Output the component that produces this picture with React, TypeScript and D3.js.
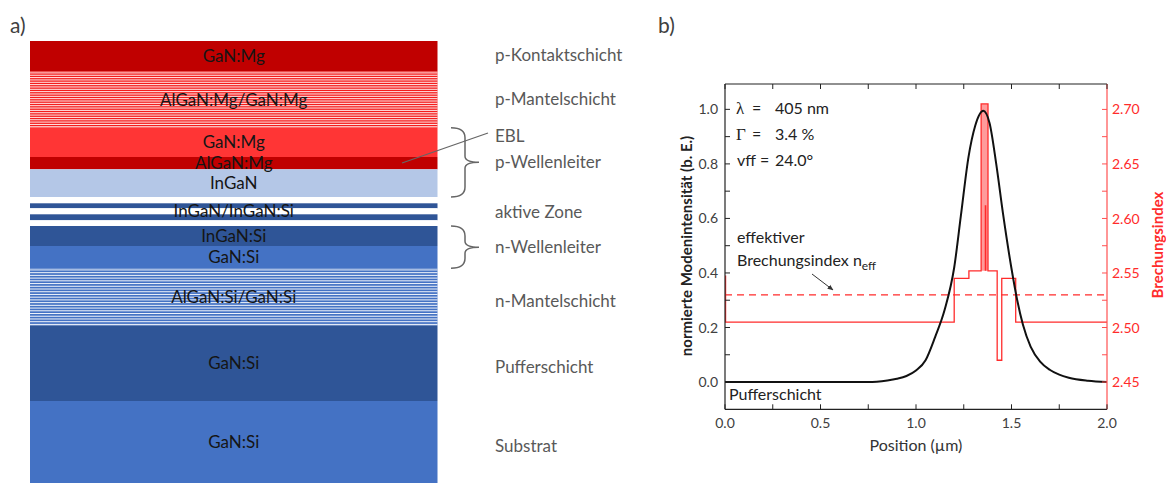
import React from 'react';
import * as d3 from 'd3';

// ---------- Panel a) layer stack ----------
const layerNames = ['GaN:Mg', 'AlGaN:Mg/GaN:Mg', 'GaN:Mg', 'AlGaN:Mg', 'InGaN', '', '', 'InGaN/InGaN:Si', '', '', 'InGaN:Si', 'GaN:Si', 'AlGaN:Si/GaN:Si', 'GaN:Si', 'GaN:Si'];
const layerThickness = [30.5, 56.2, 29.3, 12.3, 27.7, 6.3, 5, 6, 6, 5.7, 20, 22.3, 57.2, 75.5, 82];
const layerColors = ['#C00000', '#F41C1C', '#FF3535', '#C00000', '#B4C7E7', '#FFFFFF', '#2F5597', '#FFFFFF', '#2F5597', '#FFFFFF', '#2F5597', '#4472C4', '#4472C4', '#2F5597', '#4472C4'];
const layerStripes = [0, 24, 0, 0, 0, 0, 0, 0, 0, 0, 0, 0, 21, 0, 0];

const sideLabels = ['p-Kontaktschicht', 'p-Mantelschicht', 'EBL', 'p-Wellenleiter', 'aktive Zone', 'n-Wellenleiter', 'n-Mantelschicht', 'Pufferschicht', 'Substrat'];
const sideFrom = [0, 1, 2, 2, 6, 10, 12, 13, 14];
const sideTo = [0, 1, 2, 4, 8, 11, 12, 13, 14];
const sideNudge = [-1, -1, -6, 0, 0, 0, 4, 4, 4];
const braceGroups = [[2, 4], [10, 11]];

// ---------- Panel b) mode profile ----------
const modePos = [0, 0.75, 0.85, 0.9, 0.95, 1.0, 1.05, 1.1, 1.15, 1.2, 1.235, 1.275, 1.31, 1.352, 1.385, 1.42, 1.455, 1.499, 1.53, 1.56, 1.6, 1.65, 1.7, 1.75, 1.8, 1.9, 2.0];
const modeVal = [0, 0, 0.006, 0.012, 0.022, 0.042, 0.08, 0.165, 0.265, 0.42, 0.61, 0.826, 0.94, 0.995, 0.95, 0.8, 0.62, 0.42, 0.3, 0.21, 0.13, 0.075, 0.045, 0.027, 0.016, 0.005, 0];

const indexPos = [0, 0.003, 1.2, 1.277, 1.341, 1.377, 1.425, 1.449, 1.522, 2.0];
const indexVal = [2.547, 2.505, 2.545, 2.552, 2.705, 2.552, 2.47, 2.545, 2.505, 2.505];
const spikeRange = [1.341, 1.377];
const spikeBase = 2.552;
const spikeTop = 2.705;
const spikeInnerPos = 1.364;
const spikeInnerTop = 2.612;
const nEff = 2.53;

const xTicksMajor = [0, 0.5, 1.0, 1.5, 2.0];
const xTicksMinor = [0.25, 0.75, 1.25, 1.75];
const yTicksMajor = [0, 0.2, 0.4, 0.6, 0.8, 1.0];
const yTicksMinor = [0.1, 0.3, 0.5, 0.7, 0.9];
const rTicksMajor = [2.45, 2.5, 2.55, 2.6, 2.65, 2.7];
const rTicksMinor = [2.475, 2.525, 2.575, 2.625, 2.675];

const FONT = 'Lato, "Open Sans", sans-serif';
const GREY = '#404040';
const RED = '#FF2B2B';

export default function App() {
  // stack scale
  const total = d3.sum(layerThickness);
  const ys = d3.scaleLinear().domain([0, total]).range([41, 483]);
  const cum = [0, ...d3.cumsum(layerThickness)];
  const sx0 = 30, sx1 = 437.5, scx = (sx0 + sx1) / 2;

  const layerRects: JSX.Element[] = [];
  layerThickness.forEach((t, i) => {
    const y0 = ys(cum[i]);
    const y1 = ys(cum[i + 1]);
    layerRects.push(<rect key={'l' + i} x={sx0} y={y0} width={sx1 - sx0} height={y1 - y0} fill={layerColors[i]} />);
    const n = layerStripes[i];
    for (let k = 0; k < n; k++) {
      const yy = y0 + ((k + 0.6) * (y1 - y0)) / n;
      layerRects.push(<rect key={'s' + i + '_' + k} x={sx0} y={yy - 0.5} width={sx1 - sx0} height={1} fill="#FFFFFF" opacity={0.92} />);
    }
  });

  // plot scales
  const x = d3.scaleLinear().domain([0, 2]).range([725, 1107]);
  const yL = d3.scaleLinear().domain([-0.1, 1.093]).range([409.3, 84]);
  const yR = d3.scaleLinear().domain([2.425, 2.7233]).range([409.3, 84]);
  const [px0, px1] = x.range();
  const [py1, py0] = yL.range();

  const modeLine = d3.line<number>().x((d, i) => x(modePos[i])).y((d) => yL(d)).curve(d3.curveMonotoneX)(modeVal) || '';
  const idxLine = d3.line<number>().x((d, i) => x(indexPos[i])).y((d) => yR(d)).curve(d3.curveStepAfter)(indexVal) || '';
  const spikeArea = d3.area<number>().x((d) => x(d)).y0(yR(spikeBase)).y1(yR(spikeTop))(spikeRange) || '';

  const braces = braceGroups.map(([a, b], i) => {
    const top = ys(cum[a]);
    const bot = ys(cum[b + 1]);
    const mid = (top + bot) / 2;
    const xl = 451, xv = 465, xt = 479;
    const d = `M${xl},${top} Q${xv},${top} ${xv},${top + 10} L${xv},${mid - 6} Q${xv},${mid} ${xt},${mid} Q${xv},${mid} ${xv},${mid + 6} L${xv},${bot - 10} Q${xv},${bot} ${xl},${bot}`;
    return <path key={'b' + i} d={d} fill="none" stroke="#666" strokeWidth={1.5} />;
  });

  return (
    <svg width={1166} height={483} style={{ position: 'absolute', left: 0, top: 0, background: '#fff' }} fontFamily={FONT}>
      <defs>
        <clipPath id="plotclip">
          <rect x={px0} y={py0} width={px1 - px0} height={py1 - py0} />
        </clipPath>
        <marker id="arr" viewBox="0 0 10 10" refX="9" refY="5" markerWidth="6" markerHeight="6" orient="auto">
          <path d="M0,1 L10,5 L0,9 z" fill="#333" />
        </marker>
      </defs>

      {/* panel labels */}
      <text x={10} y={33} fontSize={21} fill={GREY}>a)</text>
      <text x={658} y={33} fontSize={21} fill={GREY}>b)</text>

      {/* stack */}
      {layerRects}
      {layerNames.map((name, i) =>
        name ? (
          <text key={'n' + i} x={scx} y={(ys(cum[i]) + ys(cum[i + 1])) / 2} dy="0.36em" textAnchor="middle" fontSize={17} fill="#151515">
            {name}
          </text>
        ) : null
      )}
      {sideLabels.map((s, i) => (
        <text key={'sl' + i} x={495} y={(ys(cum[sideFrom[i]]) + ys(cum[sideTo[i] + 1])) / 2 + sideNudge[i]} dy="0.36em" fontSize={17} fill="#595959">
          {s}
        </text>
      ))}
      {braces}
      <line x1={488} y1={133} x2={402} y2={163} stroke="#666" strokeWidth={1.3} />

      {/* plot */}
      <g clipPath="url(#plotclip)">
        <path d={spikeArea} fill="#FF7070" opacity={0.7} />
        <line x1={x(spikeInnerPos)} x2={x(spikeInnerPos)} y1={yR(spikeBase)} y2={yR(spikeInnerTop)} stroke={RED} strokeWidth={1.6} />
        <path d={idxLine} fill="none" stroke={RED} strokeWidth={1.3} />
        <line x1={px0} x2={px1} y1={yR(nEff)} y2={yR(nEff)} stroke={RED} strokeWidth={1.3} strokeDasharray="7,5" />
        <path d={modeLine} fill="none" stroke="#111" strokeWidth={2} />
      </g>

      {/* axes frame */}
      <line x1={px0} x2={px1} y1={py0} y2={py0} stroke="#222" strokeWidth={1.2} />
      <line x1={px0} x2={px1} y1={py1} y2={py1} stroke="#222" strokeWidth={1.2} />
      <line x1={px0} x2={px0} y1={py0} y2={py1} stroke="#222" strokeWidth={1.2} />
      <line x1={px1} x2={px1} y1={py0} y2={py1} stroke="#FF5050" strokeWidth={1.2} />

      {/* x ticks */}
      {xTicksMajor.concat(xTicksMinor).map((t, i) => (
        <g key={'xt' + i}>
          <line x1={x(t)} x2={x(t)} y1={py1} y2={py1 - 5} stroke="#222" strokeWidth={1} />
          <line x1={x(t)} x2={x(t)} y1={py0} y2={py0 + 5} stroke="#222" strokeWidth={1} />
        </g>
      ))}
      {xTicksMajor.map((t, i) => (
        <text key={'xl' + i} x={x(t)} y={428} textAnchor="middle" fontSize={14} fill={GREY}>
          {t.toFixed(1)}
        </text>
      ))}
      {/* left y ticks */}
      {yTicksMajor.concat(yTicksMinor).map((t, i) => (
        <line key={'yt' + i} x1={px0} x2={px0 + 5} y1={yL(t)} y2={yL(t)} stroke="#222" strokeWidth={1} />
      ))}
      {yTicksMajor.map((t, i) => (
        <text key={'yl' + i} x={718} y={yL(t)} dy="0.36em" textAnchor="end" fontSize={14} fill={GREY}>
          {t.toFixed(1)}
        </text>
      ))}
      {/* right ticks */}
      {rTicksMajor.concat(rTicksMinor).map((t, i) => (
        <line key={'rt' + i} x1={px1} x2={px1 - 5} y1={yR(t)} y2={yR(t)} stroke="#FF5050" strokeWidth={1} />
      ))}
      {rTicksMajor.map((t, i) => (
        <text key={'rl' + i} x={1112} y={yR(t)} dy="0.36em" textAnchor="start" fontSize={14} fill={RED}>
          {t.toFixed(2)}
        </text>
      ))}

      {/* axis titles */}
      <text x={916} y={451} textAnchor="middle" fontSize={16} fill="#333">Position (µm)</text>
      <text transform={`translate(692,246) rotate(-90)`} textAnchor="middle" fontSize={15} fontWeight="bold" fill="#222">
        normierte Modenintensität (b. E.)
      </text>
      <text transform={`translate(1163,245) rotate(-90)`} textAnchor="middle" fontSize={15} fontWeight="bold" fill={RED}>
        Brechungsindex
      </text>

      {/* annotations */}
      <g fontSize={16} fill="#222">
        <text x={736} y={114} fontFamily='"Liberation Serif", serif' fontSize={17}>λ</text>
        <text x={752} y={114}>=</text>
        <text x={775} y={114}>405 nm</text>
        <text x={736} y={140} fontFamily='"Liberation Serif", serif' fontSize={17}>Γ</text>
        <text x={752} y={140}>=</text>
        <text x={775} y={140}>3.4 %</text>
        <text x={737} y={166}>vff</text>
        <text x={760} y={166}>=</text>
        <text x={775} y={166}>24.0°</text>
        <text x={737} y={243}>effektiver</text>
        <text x={737} y={266}>
          Brechungsindex n<tspan fontSize={12} dy={4}>eff</tspan>
        </text>
        <text x={729} y={400}>Pufferschicht</text>
      </g>
      <line x1={812} y1={274} x2={833} y2={290} stroke="#333" strokeWidth={1} markerEnd="url(#arr)" />
    </svg>
  );
}
